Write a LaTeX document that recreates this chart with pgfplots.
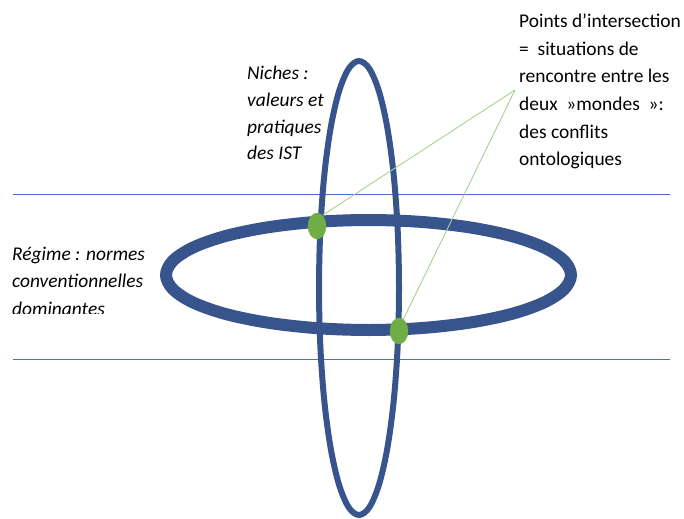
\documentclass[border=0pt]{standalone}
\usepackage{fontspec}
\setmainfont{Carlito}
\usepackage{pgfplots}
\pgfplotsset{compat=1.18}

\definecolor{ringblue}{RGB}{55,84,141}
\definecolor{lineblue}{HTML}{4472C4}
\definecolor{dotgreen}{HTML}{70AD47}
\definecolor{leadgreen}{HTML}{A9D18E}
\tikzset{txt/.style={anchor=base west, inner sep=0pt, font=\fontsize{19.5}{27}\selectfont}}

\begin{document}
\begin{tikzpicture}
\begin{axis}[
  width=684bp, height=519bp, scale only axis,
  xmin=0, xmax=684, ymin=0, ymax=519, y dir=reverse,
  hide axis, clip mode=individual,
]
% bandes horizontales
\addplot [lineblue, line width=1bp] coordinates {(13,194) (670,194)};
\addplot [lineblue, line width=1bp] coordinates {(13,359) (670,359)};

% ellipse verticale (niches)
\addplot [ringblue, line width=6bp, smooth cycle, tension=0.55] coordinates {
  (399,288) (397.64,346.75) (393.64,401.5) (387.28,448.5) (379,484.6) (369.35,507.3)
  (359,515) (348.65,507.3) (339,484.6) (330.72,448.5) (324.36,401.5) (320.36,346.75)
  (319,288) (320.36,229.25) (324.36,174.5) (330.72,127.5) (339,91.4) (348.65,68.7)
  (359,61) (369.35,68.7) (379,91.4) (387.28,127.5) (393.64,174.5) (397.64,229.25)};

% ellipse horizontale (regime)
\addplot [ringblue, line width=12bp, smooth cycle, tension=0.55] coordinates {
  (571,275) (564.1,289.2) (543.9,302.5) (511.7,313.9) (469.75,322.6) (420.9,328.1)
  (368.5,330) (316.1,328.1) (267.25,322.6) (225.3,313.9) (193.1,302.5) (172.9,289.2)
  (166,275) (172.9,260.8) (193.1,247.5) (225.3,236.1) (267.25,227.4) (316.1,221.9)
  (368.5,220) (420.9,221.9) (469.75,227.4) (511.7,236.1) (543.9,247.5) (564.1,260.8)};

% traits vers la legende
\addplot [leadgreen, line width=0.9bp] coordinates {(323,215) (515,90)};
\addplot [leadgreen, line width=0.9bp] coordinates {(403,320) (515,90)};

% points d'intersection
\addplot [only marks, mark=*, mark size=9bp, draw=dotgreen, fill=dotgreen,
  mark options={yscale=1.44}] coordinates {(317,226) (399,331)};

% textes
\node[txt] at (axis cs:519,28) {Points d’intersection};
\node[txt] at (axis cs:519,55.5) {=\ \ situations de};
\node[txt] at (axis cs:519,83) {rencontre entre les};
\node[txt] at (axis cs:519,110.5) {deux\ \ »mondes\ \ »:};
\node[txt] at (axis cs:519,138) {des conflits};
\node[txt] at (axis cs:519,165.5) {ontologiques};

\node[txt] at (axis cs:247,79.5) {\itshape Niches :};
\node[txt] at (axis cs:247,106.3) {\itshape valeurs et};
\node[txt] at (axis cs:247,133) {\itshape pratiques};
\node[txt] at (axis cs:247,159.7) {\itshape des IST};

\node[txt] at (axis cs:12,260) {\itshape Régime : normes};
\node[txt] at (axis cs:12,287) {\itshape conventionnelles};
\end{axis}
% derniere ligne coupee en bas, comme dans l'original
\begin{scope}
  \clip (0,205.7bp) rectangle (170bp,240bp);
  \node[txt] at (12bp,203.5bp) {\itshape dominantes};
\end{scope}
\pgfresetboundingbox
\useasboundingbox (0,0) rectangle (684bp,519bp);
\end{tikzpicture}
\end{document}
